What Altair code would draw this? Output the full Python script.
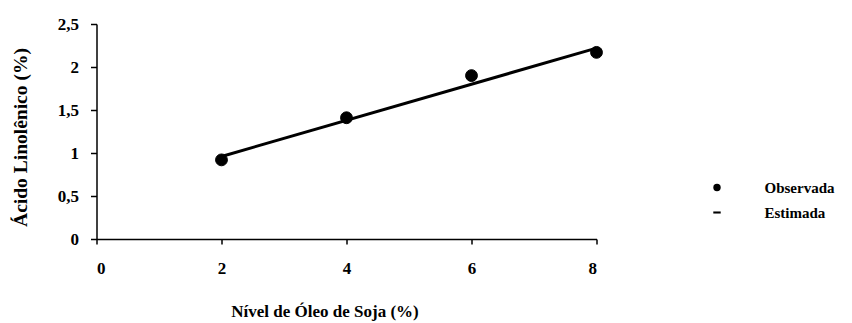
import altair as alt
import pandas as pd

# --- data ---
nivel = [2, 4, 6, 8]
observada = [0.92, 1.41, 1.90, 2.17]
nivel_estimada = [2, 8]
estimada = [0.96, 2.22]
series = ["Observada", "Estimada"]
y_ticks = [0, 0.5, 1, 1.5, 2, 2.5]
x_ticks = [0, 2, 4, 6, 8]

obs = pd.DataFrame({"nivel": nivel, "valor": observada, "serie": series[0]})
est = pd.DataFrame({"nivel": nivel_estimada, "valor": estimada, "serie": series[1]})

FONT = "Liberation Serif"
FS = 17

x = alt.X(
    "nivel:Q",
    scale=alt.Scale(domain=[0, 8], nice=False),
    axis=alt.Axis(
        values=x_ticks, title="Nível de Óleo de Soja (%)", format="d",
        tickSize=5, labelPadding=16,
        titleX=228, titleY=77, titleBaseline="alphabetic", titleAlign="center",
        titleFontSize=17,
    ),
)
y = alt.Y(
    "valor:Q",
    scale=alt.Scale(domain=[0, 2.5], nice=False),
    axis=alt.Axis(
        values=y_ticks, title="Ácido Linolênico (%)",
        labelExpr="replace(toString(datum.value), '.', ',')",
        tickSize=6, labelPadding=12,
        titleX=-76.5, titleY=113, titleAngle=-90, titleBaseline="middle", titleAlign="center",
        titleFontSize=19.5,
    ),
)

line = alt.Chart(est).mark_line(color="black", strokeWidth=3).encode(x=x, y=y)

# legend symbol for "Estimada": a thin filled dash drawn as a custom symbol path
dash_path = "M-1,-0.28L1,-0.28L1,0.28L-1,0.28Z"

pts = alt.Chart(obs).mark_point(
    filled=True, fill="black", stroke="black", strokeWidth=1, size=140, opacity=1
).encode(
    x=x,
    y=y,
    shape=alt.Shape(
        "serie:N",
        scale=alt.Scale(domain=series, range=["circle", dash_path]),
        legend=alt.Legend(
            title=None, orient="none", legendX=613, legendY=156,
            symbolSize=55, labelOffset=40, rowPadding=9,
            symbolStrokeWidth=0, symbolFillColor="black",
            labelFont=FONT, labelFontSize=15, labelFontWeight="bold", labelColor="black",
        ),
    ),
)

chart = (
    alt.layer(line, pts)
    .properties(
        width=500,
        height=215,
        autosize=alt.AutoSizeParams(type="none"),
        padding={"left": 88.5, "top": 16, "right": 247.5, "bottom": 84},
        background="white",
    )
    .configure_view(stroke=None)
    .configure_axis(
        grid=False,
        domainColor="black",
        domainWidth=1.5,
        tickColor="black",
        tickWidth=1.5,
        labelFont=FONT,
        labelFontSize=FS,
        labelFontWeight="bold",
        labelColor="black",
        titleFont=FONT,
        titleFontWeight="bold",
        titleColor="black",
    )
)

chart.save("out.html", embed_options={"renderer": "svg", "actions": False})
